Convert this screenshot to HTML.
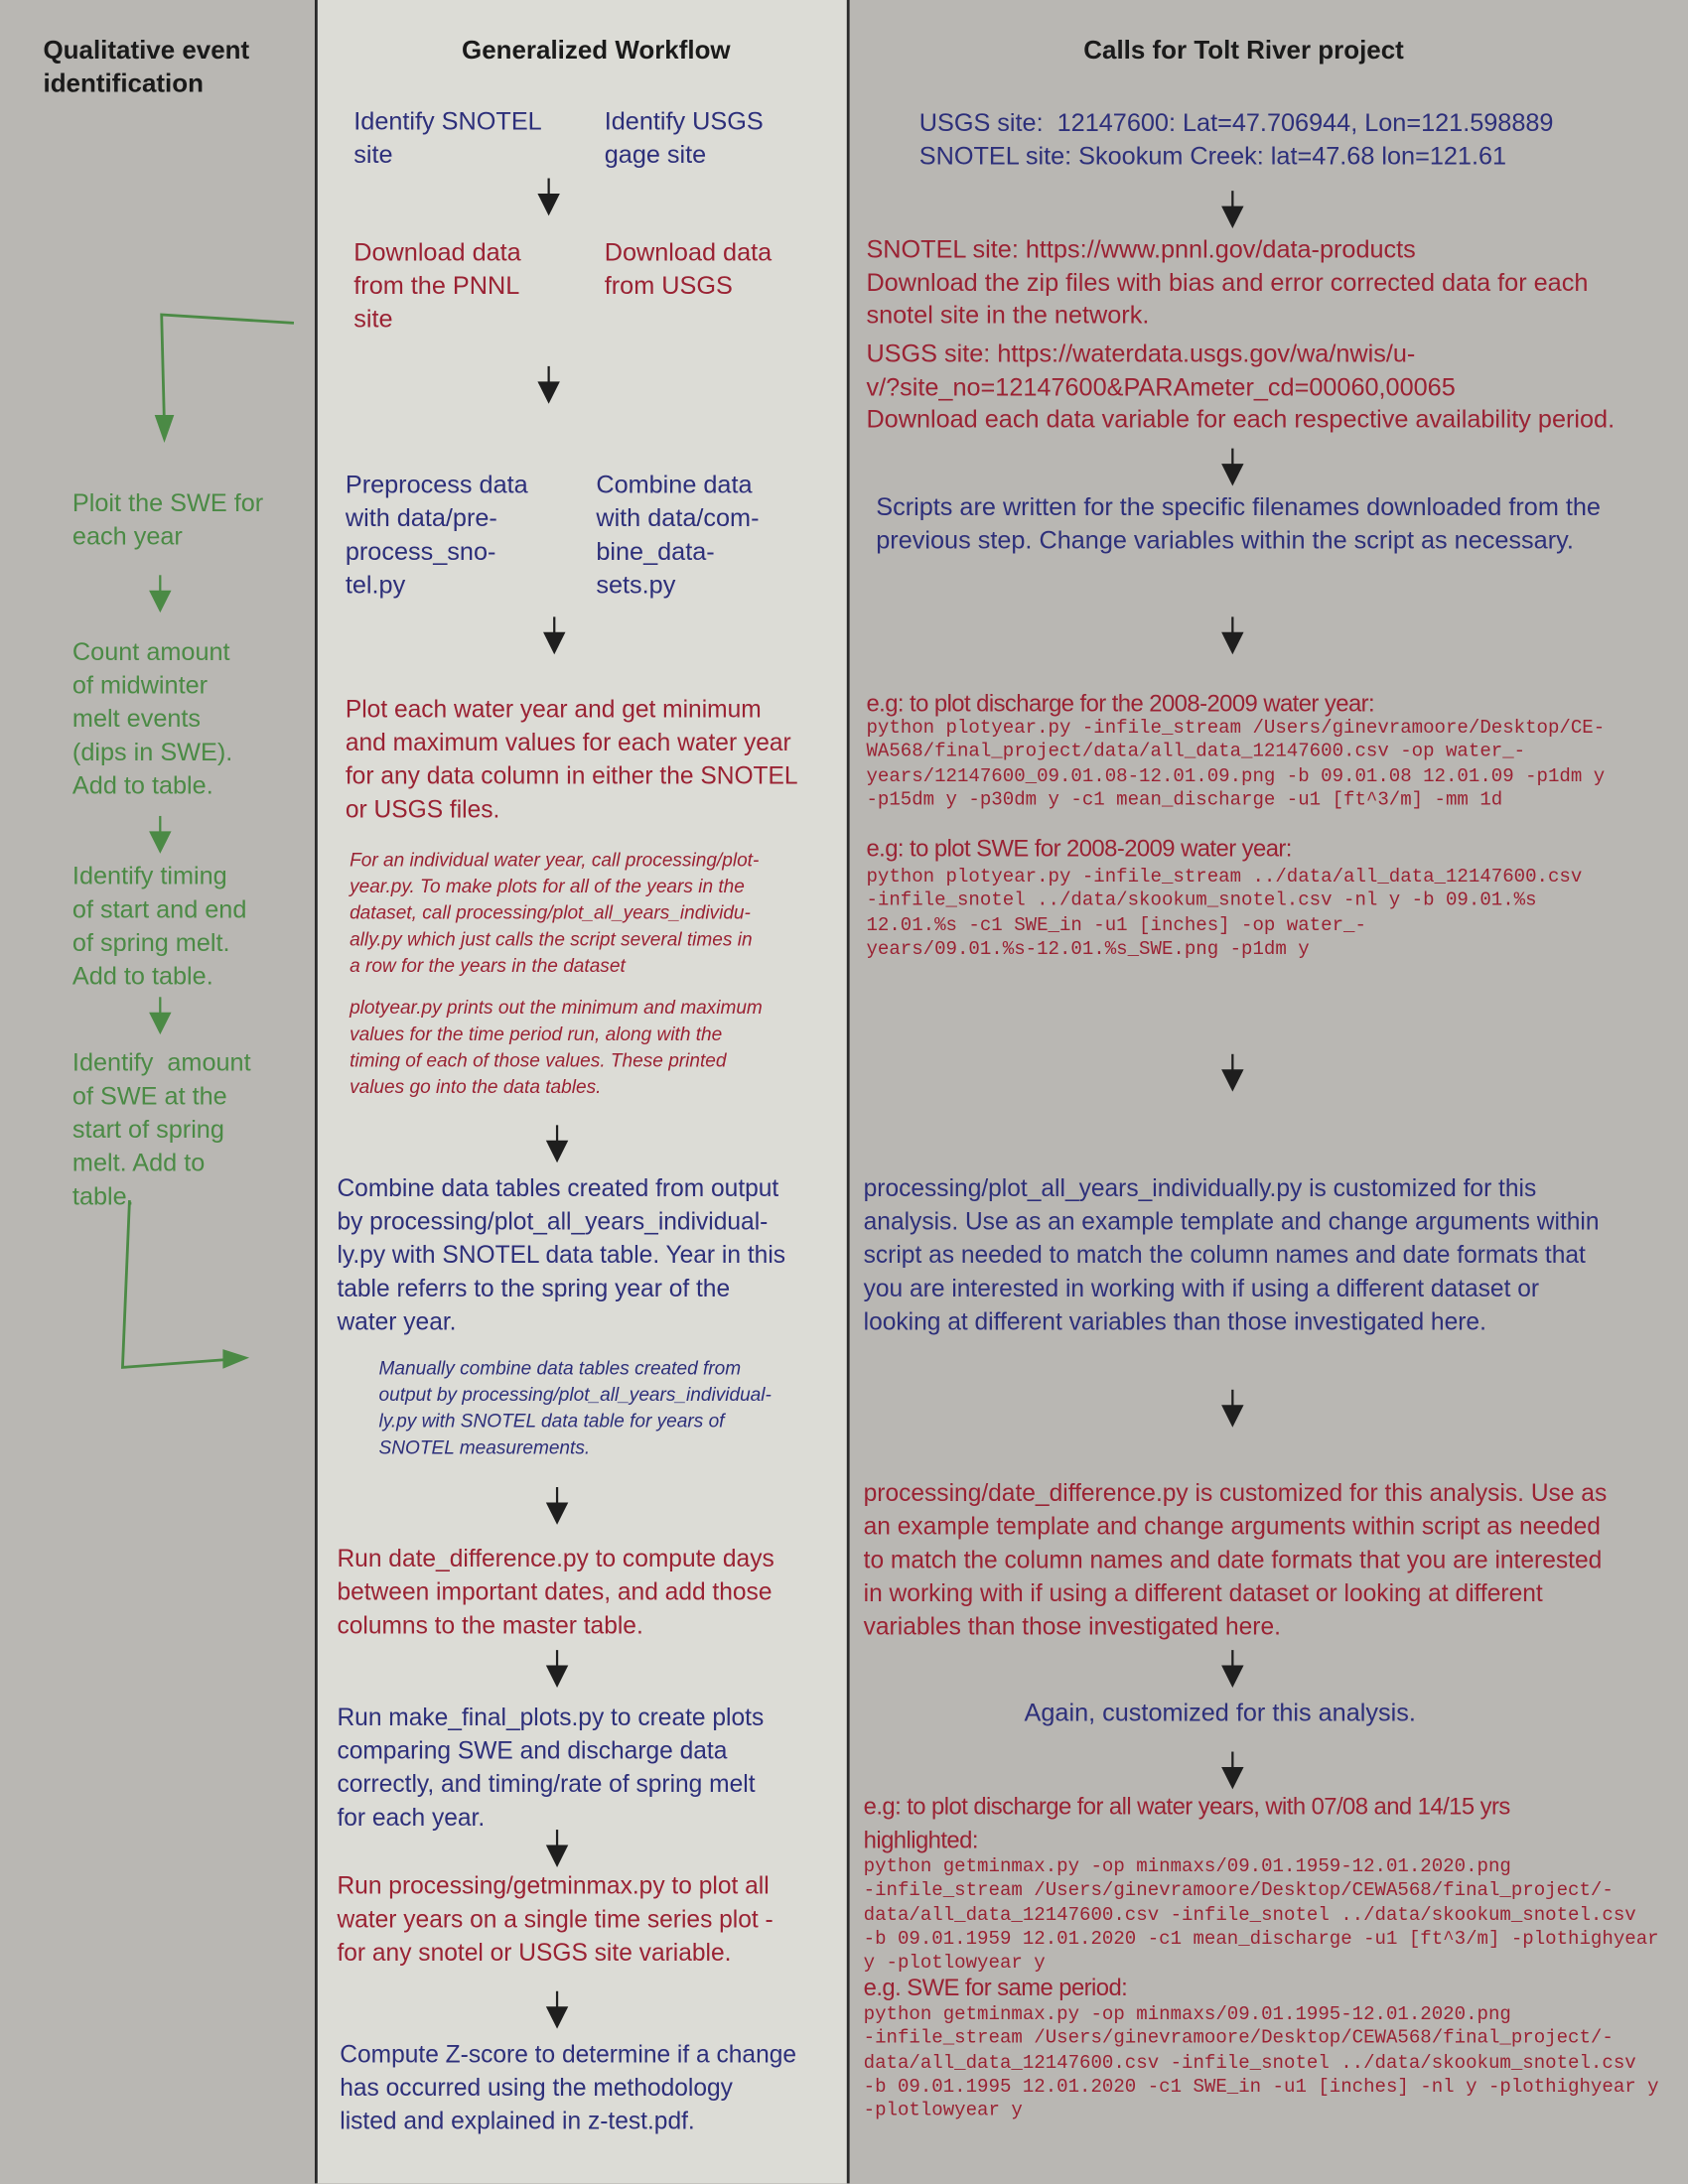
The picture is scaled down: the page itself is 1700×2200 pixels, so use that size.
<!DOCTYPE html>
<html><head><meta charset="utf-8"><style>
html,body{margin:0;padding:0;width:1700px;height:2200px;overflow:hidden;background:#b9b7b3}
#w{position:absolute;left:0;top:0;width:1212px;height:1568px;transform:scale(1.40264);transform-origin:0 0;font-family:"Liberation Sans",sans-serif}
.t{position:absolute;white-space:nowrap;font-size:18px;line-height:24px}
.b{color:#2d2f7a}.r{color:#9a2233}.g{color:#4b8a45}
.h{font-weight:bold;color:#1a1a1a;font-size:18.5px;line-height:24px}
.i{font-style:italic;font-size:13.6px;line-height:19px}
.m{font-family:"Liberation Mono",monospace;font-size:13.6px;line-height:17.3px;color:#9a2233}
.e{font-size:17px;letter-spacing:-0.4px}
</style></head><body><div id="w">
<div style="position:absolute;left:227px;top:0;width:382px;height:1568px;background:#dcdcd6"></div>
<div style="position:absolute;left:226px;top:0;width:2px;height:1568px;background:#2a2a2a"></div>
<div style="position:absolute;left:608px;top:0;width:2px;height:1568px;background:#2a2a2a"></div>

<div class="t h" style="left:31px;top:24px">Qualitative event<br>identification</div>
<div class="t h" style="left:237px;width:382px;text-align:center;top:24px">Generalized Workflow</div>
<div class="t h" style="left:610px;width:566px;text-align:center;top:24px">Calls for Tolt River project</div>

<!-- left column -->
<div class="t g" style="left:52px;top:349px">Ploit the SWE for<br>each year</div>
<div class="t g" style="left:52px;top:456px">Count amount<br>of midwinter<br>melt events<br>(dips in SWE).<br>Add to table.</div>
<div class="t g" style="left:52px;top:617px">Identify timing<br>of start and end<br>of spring melt.<br>Add to table.</div>
<div class="t g" style="left:52px;top:751px">Identify&nbsp; amount<br>of SWE at the<br>start of spring<br>melt. Add to<br>table.</div>

<!-- middle column -->
<div class="t b" style="left:254px;top:75px">Identify SNOTEL<br>site</div>
<div class="t b" style="left:434px;top:75px">Identify USGS<br>gage site</div>
<div class="t r" style="left:254px;top:169px">Download data<br>from the PNNL<br>site</div>
<div class="t r" style="left:434px;top:169px">Download data<br>from USGS</div>
<div class="t b" style="left:248px;top:336px">Preprocess data<br>with data/pre-<br>process_sno-<br>tel.py</div>
<div class="t b" style="left:428px;top:336px">Combine data<br>with data/com-<br>bine_data-<br>sets.py</div>
<div class="t r" style="left:248px;top:497px;font-size:17.5px">Plot each water year and get minimum<br>and maximum values for each water year<br>for any data column in either the SNOTEL<br>or USGS files.</div>
<div class="t r i" style="left:251px;top:608px">For an individual water year, call processing/plot-<br>year.py. To make plots for all of the years in the<br>dataset, call processing/plot_all_years_individu-<br>ally.py which just calls the script several times in<br>a row for the years in the dataset</div>
<div class="t r i" style="left:251px;top:714px">plotyear.py prints out the minimum and maximum<br>values for the time period run, along with the<br>timing of each of those values. These printed<br>values go into the data tables.</div>
<div class="t b" style="left:242px;top:841px;font-size:17.5px">Combine data tables created from output<br>by processing/plot_all_years_individual-<br>ly.py with SNOTEL data table. Year in this<br>table referrs to the spring year of the<br>water year.</div>
<div class="t b i" style="left:272px;top:973px">Manually combine data tables created from<br>output by processing/plot_all_years_individual-<br>ly.py with SNOTEL data table for years of<br>SNOTEL measurements.</div>
<div class="t r" style="left:242px;top:1107px;font-size:17.5px">Run date_difference.py to compute days<br>between important dates, and add those<br>columns to the master table.</div>
<div class="t b" style="left:242px;top:1221px;font-size:17.5px">Run make_final_plots.py to create plots<br>comparing SWE and discharge data<br>correctly, and timing/rate of spring melt<br>for each year.</div>
<div class="t r" style="left:242px;top:1342px;font-size:17.5px">Run processing/getminmax.py to plot all<br>water years on a single time series plot -<br>for any snotel or USGS site variable.</div>
<div class="t b" style="left:244px;top:1463px;font-size:17.5px">Compute Z-score to determine if a change<br>has occurred using the methodology<br>listed and explained in z-test.pdf.</div>

<!-- right column -->
<div class="t b" style="left:660px;top:76px">USGS site:&nbsp; 12147600: Lat=47.706944, Lon=121.598889<br>SNOTEL site: Skookum Creek: lat=47.68 lon=121.61</div>
<div class="t r" style="left:622px;top:168px;line-height:23.5px">SNOTEL site: https://www.pnnl.gov/data-products<br>Download the zip files with bias and error corrected data for each<br>snotel site in the network.</div>
<div class="t r" style="left:622px;top:243px;line-height:23.5px">USGS site: https://waterdata.usgs.gov/wa/nwis/u-<br>v/?site_no=12147600&amp;PARAmeter_cd=00060,00065<br>Download each data variable for each respective availability period.</div>
<div class="t b" style="left:629px;top:353px;line-height:23.5px">Scripts are written for the specific filenames downloaded from the<br>previous step. Change variables within the script as necessary.</div>
<div class="t r e" style="left:622px;top:494px">e.g: to plot discharge for the 2008-2009 water year:</div>
<div class="t m" style="left:622px;top:515px">python plotyear.py -infile_stream /Users/ginevramoore/Desktop/CE-<br>WA568/final_project/data/all_data_12147600.csv -op water_-<br>years/12147600_09.01.08-12.01.09.png -b 09.01.08 12.01.09 -p1dm y<br>-p15dm y -p30dm y -c1 mean_discharge -u1 [ft^3/m] -mm 1d</div>
<div class="t r e" style="left:622px;top:598px">e.g: to plot SWE for 2008-2009 water year:</div>
<div class="t m" style="left:622px;top:622px">python plotyear.py -infile_stream ../data/all_data_12147600.csv<br>-infile_snotel ../data/skookum_snotel.csv -nl y -b 09.01.%s<br>12.01.%s -c1 SWE_in -u1 [inches] -op water_-<br>years/09.01.%s-12.01.%s_SWE.png -p1dm y</div>
<div class="t b" style="left:620px;top:841px;font-size:17.5px">processing/plot_all_years_individually.py is customized for this<br>analysis. Use as an example template and change arguments within<br>script as needed to match the column names and date formats that<br>you are interested in working with if using a different dataset or<br>looking at different variables than those investigated here.</div>
<div class="t r" style="left:620px;top:1060px;font-size:17.5px">processing/date_difference.py is customized for this analysis. Use as<br>an example template and change arguments within script as needed<br>to match the column names and date formats that you are interested<br>in working with if using a different dataset or looking at different<br>variables than those investigated here.</div>
<div class="t b" style="left:610px;width:532px;text-align:center;top:1218px">Again, customized for this analysis.</div>
<div class="t r e" style="left:620px;top:1286px">e.g: to plot discharge for all water years, with 07/08 and 14/15 yrs<br>highlighted:</div>
<div class="t m" style="left:620px;top:1333px">python getminmax.py -op minmaxs/09.01.1959-12.01.2020.png<br>-infile_stream /Users/ginevramoore/Desktop/CEWA568/final_project/-<br>data/all_data_12147600.csv -infile_snotel ../data/skookum_snotel.csv<br>-b 09.01.1959 12.01.2020 -c1 mean_discharge -u1 [ft^3/m] -plothighyear<br>y -plotlowyear y</div>
<div class="t r e" style="left:620px;top:1416px">e.g. SWE for same period:</div>
<div class="t m" style="left:620px;top:1439px">python getminmax.py -op minmaxs/09.01.1995-12.01.2020.png<br>-infile_stream /Users/ginevramoore/Desktop/CEWA568/final_project/-<br>data/all_data_12147600.csv -infile_snotel ../data/skookum_snotel.csv<br>-b 09.01.1995 12.01.2020 -c1 SWE_in -u1 [inches] -nl y -plothighyear y<br>-plotlowyear y</div>

<svg style="position:absolute;left:0;top:0" width="1212" height="1568" viewBox="0 0 1212 1568">
<defs>
<g id="a"><line x1="0" y1="0" x2="0" y2="14" stroke="#1e1e1e" stroke-width="1.6"/><polygon points="-8,11 8,11 0,27" fill="#1e1e1e"/></g>
<g id="ga"><line x1="0" y1="0" x2="0" y2="14" stroke="#4b8a45" stroke-width="1.6"/><polygon points="-8,11 8,11 0,27" fill="#4b8a45"/></g>
</defs>
<use href="#a" x="394" y="128"/><use href="#a" x="394" y="263"/><use href="#a" x="398" y="443"/>
<use href="#a" x="400" y="808"/><use href="#a" x="400" y="1068"/><use href="#a" x="400" y="1185"/>
<use href="#a" x="400" y="1314"/><use href="#a" x="400" y="1430"/>
<use href="#a" x="885" y="137"/><use href="#a" x="885" y="322"/><use href="#a" x="885" y="443"/>
<use href="#a" x="885" y="757"/><use href="#a" x="885" y="998"/><use href="#a" x="885" y="1185"/><use href="#a" x="885" y="1258"/>
<use href="#ga" x="115" y="413"/><use href="#ga" x="115" y="586"/><use href="#ga" x="115" y="716"/>
<polyline points="211,232 116,226 118,306" fill="none" stroke="#4b8a45" stroke-width="2"/>
<polygon points="111,298 125,298 118,318" fill="#4b8a45"/>
<polyline points="93,862 88,982 168,976" fill="none" stroke="#4b8a45" stroke-width="2"/>
<polygon points="160,969 160,983 179,975" fill="#4b8a45"/>
</svg>
</div></body></html>
